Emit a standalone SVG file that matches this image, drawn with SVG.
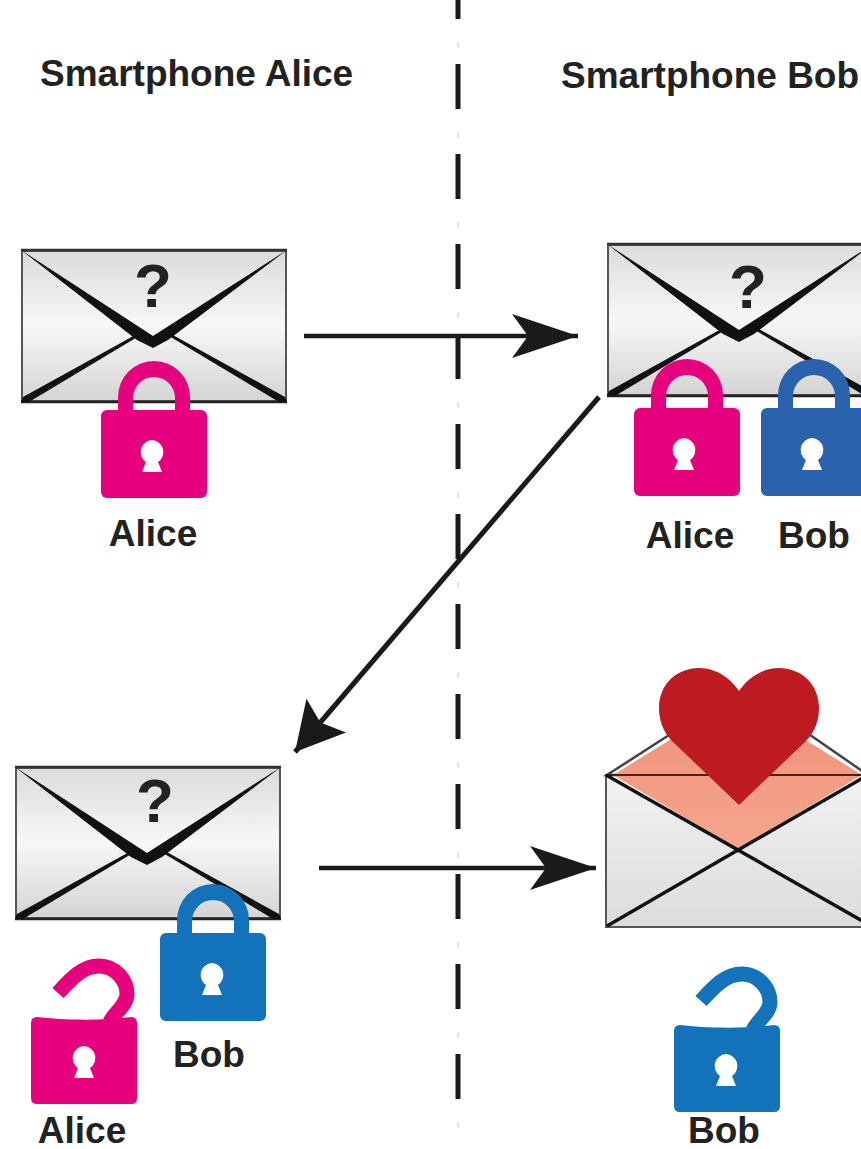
<svg xmlns="http://www.w3.org/2000/svg" width="861" height="1149" viewBox="0 0 861 1149">
<style>
text{font-family:"Liberation Sans",Arial,sans-serif;font-weight:700;fill:#222;}
.h{font-size:37px}.l{font-size:37px;text-anchor:middle}
.q{font-size:62px;text-anchor:middle}
.c{fill:none;stroke:#1a1a1a;stroke-width:4.500}
.d{fill:none;stroke:#1a1a1a;stroke-width:5;stroke-dasharray:45 45}
.t{fill:none;stroke:#ccc;stroke-width:1;stroke-dasharray:6 84}
</style>
<defs>
<linearGradient id="g" x1="0" y1="0" x2="0" y2="1"><stop offset="0" stop-color="#dcdcdc"/><stop offset=".5" stop-color="#f7f7f7"/><stop offset="1" stop-color="#d4d4d4"/></linearGradient>
<linearGradient id="f" x1="0" y1="0" x2="0" y2="1"><stop offset="0" stop-color="#f2f2f2"/><stop offset="1" stop-color="#dcdcdc"/></linearGradient>
<linearGradient id="o" x1="0" y1="0" x2="0" y2="1"><stop offset="0" stop-color="#ee9077"/><stop offset="1" stop-color="#f6a68e"/></linearGradient>
<marker id="a" markerUnits="userSpaceOnUse" markerWidth="70" markerHeight="50" refX="66" refY="22" orient="auto"><path d="M0 0L66 22L0 44L16 22Z" fill="#1a1a1a"/></marker>
<marker id="b" markerUnits="userSpaceOnUse" markerWidth="52" markerHeight="56" refX="48" refY="26" orient="auto"><path d="M0 0L48 26L0 52L9 26Z" fill="#1a1a1a"/></marker>
<g id="env">
<rect x="1" y="1" width="264" height="150" fill="url(#g)" stroke="#555" stroke-width="2"/>
<path d="M0 0H266" stroke="#333" stroke-width="2.500" fill="none"/>
<path d="M0 152H266" stroke="#222" stroke-width="2.500" fill="none"/>
<path d="M0 152L2 147L116 84L118 86L8 152ZM266 152L264 147L150 84L148 86L258 152Z" fill="#111"/>
<path d="M0 0L132 86L266 0L147 90L132 98L116 90Z" fill="#111"/>
</g>
<path id="shackle" d="M17 52V36A36 36 0 0 1 89 36V52H74V37A21 21 0 0 0 32 37V52Z"/>
<rect id="lockbody" x="0" y="49" width="106" height="88" rx="6"/>
<path id="openshackle" d="M27 26C39 13 51 -1 68 -1C84 -1 96 13 96 27C96 38 84 45 79 55" fill="none" stroke-width="15"/>
<path id="openbody" d="M6 50C30 53 70 54 100 50Q106 50 106 56V131Q106 137 100 137H6Q0 137 0 131V56Q0 50 6 50Z"/>
<path id="key" d="M0 -10a12 12 0 0 1 6 22l4 10h-20l4 -10a12 12 0 0 1 6 -22Z" fill="#fff"/>
</defs>

<g id="connectors">
<path class="d" d="M458 -26V1110"/>
<path class="t" d="M458 42V1130"/>
<path class="c" d="M304 336H578" marker-end="url(#a)"/>
<path class="c" d="M599 397L295 752" marker-end="url(#b)" style="stroke-width:5"/>
<path class="c" d="M319 868H596" marker-end="url(#a)"/>
</g>

<g id="title-alice"><text class="h" x="40" y="86">Smartphone Alice</text></g>
<g id="title-bob"><text class="h" x="561" y="88">Smartphone Bob</text></g>

<g id="envelope-alice-1">
<use href="#env" x="21" y="250"/>
<text class="q" x="153" y="307">?</text>
<g transform="translate(101,361)" fill="#e6007e">
<use href="#shackle"/><use href="#lockbody"/><use href="#key" x="51" y="89"/>
</g>
<text class="l" x="153" y="546">Alice</text>
</g>

<g id="envelope-bob-1">
<use href="#env" x="607" y="244"/>
<text class="q" x="748" y="308">?</text>
<g transform="translate(634,359)" fill="#e6007e">
<use href="#shackle"/><use href="#lockbody"/><use href="#key" x="50" y="89"/>
</g>
<g transform="translate(761,359)" fill="#2b62ae">
<use href="#shackle"/><use href="#lockbody"/><use href="#key" x="51" y="89"/>
</g>
<text class="l" x="690" y="548">Alice</text>
<text class="l" x="814" y="548">Bob</text>
</g>

<g id="envelope-alice-2">
<use href="#env" x="15" y="767"/>
<text class="q" x="155" y="822">?</text>
<g transform="translate(160,884)" fill="#1272ba">
<use href="#shackle"/><use href="#lockbody"/><use href="#key" x="52" y="89"/>
</g>
<g transform="translate(31,967)" fill="#e6007e" stroke="#e6007e">
<use href="#openshackle"/><use href="#openbody" stroke="none"/><use href="#key" x="53" y="89" stroke="none"/>
</g>
<text class="l" x="209" y="1067">Bob</text>
<text class="l" x="82" y="1143">Alice</text>
</g>

<g id="envelope-bob-2">
<path d="M607 775L680 728H800L868 775Z" fill="none" stroke="#444" stroke-width="2.500"/>
<path d="M613 775L738 698L862 775L738 849Z" fill="url(#o)"/>
<path d="M606 776V927H871V776L738 850Z" fill="url(#f)"/>
<path d="M605 775H871" stroke="#4a2018" stroke-width="2" fill="none"/>
<path d="M606 775V927H871" stroke="#555" stroke-width="2" fill="none"/>
<path d="M606 775L738 850L868 775" stroke="#111" stroke-width="3.500" fill="none"/>
<path d="M607 926L738 850L871 926" stroke="#111" stroke-width="3.500" fill="none"/>
<path d="M739 805L672 741C663 732 659 720 659 708C659 684 677 668 699 668C717 668 731 679 739 691C747 679 761 668 779 668C801 668 819 684 819 708C819 720 815 732 806 741Z" fill="#bd1a21"/>
<g transform="translate(674,975)" fill="#1272ba" stroke="#1272ba">
<use href="#openshackle"/><use href="#openbody" stroke="none"/><use href="#key" x="52" y="89" stroke="none"/>
</g>
<text class="l" x="724" y="1143">Bob</text>
</g>
</svg>
